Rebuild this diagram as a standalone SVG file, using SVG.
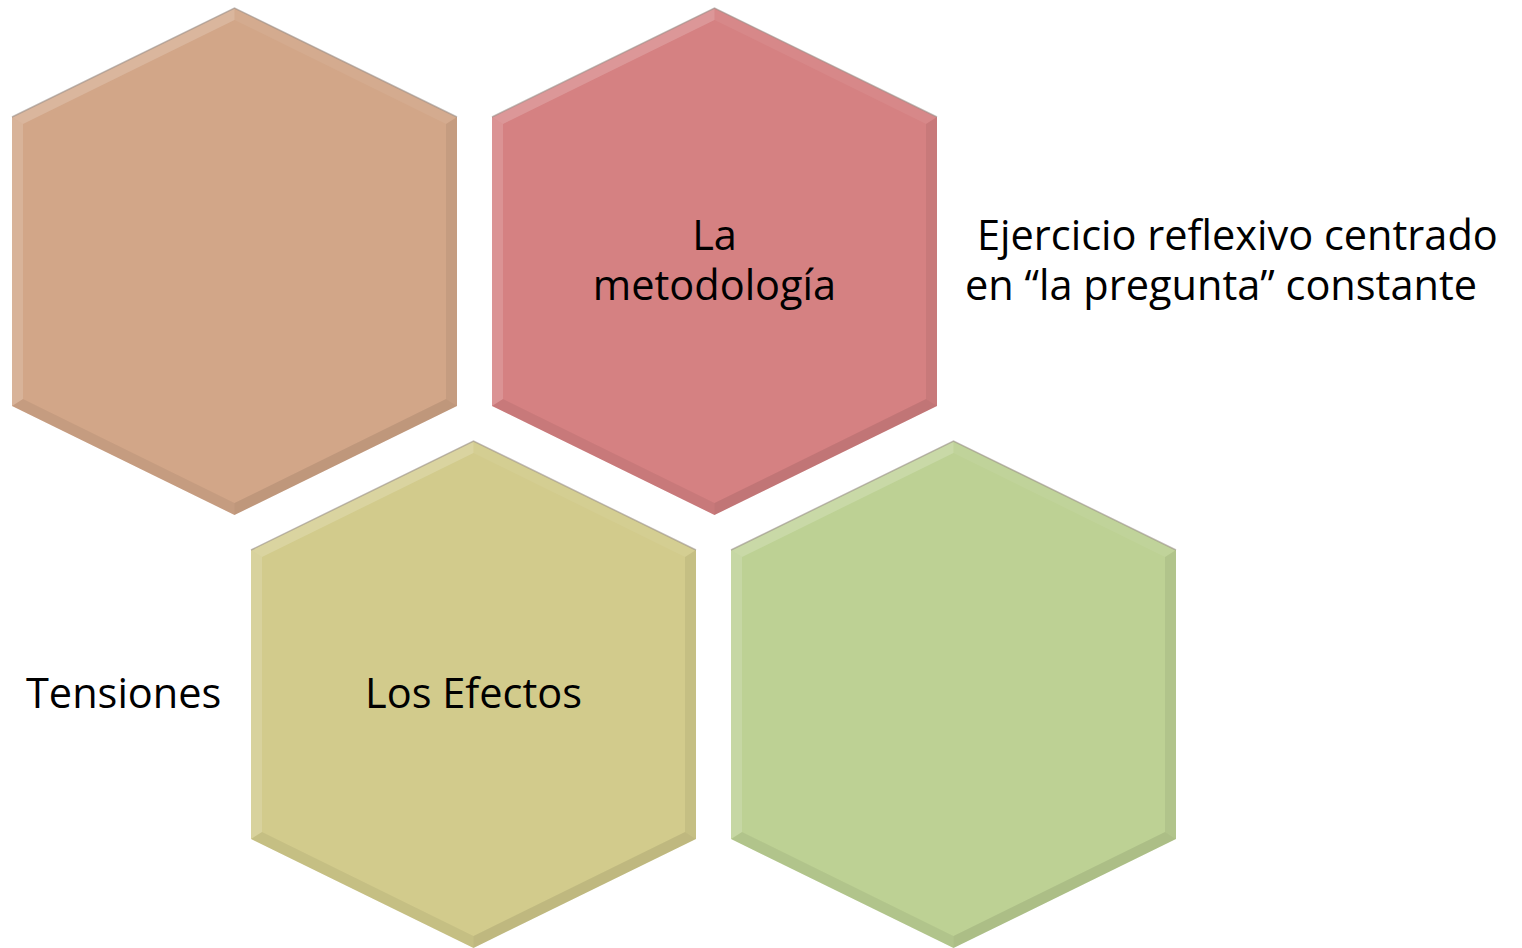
<svg xmlns="http://www.w3.org/2000/svg" xmlns:xlink="http://www.w3.org/1999/xlink" width="1522" height="948" viewBox="0 0 1522 948">
<style>
.lbl{font-family:"Open Sans","Liberation Sans",sans-serif;font-size:41.5px;fill:#000}
.edge{fill:none;stroke:#9a9088;stroke-opacity:0.6;stroke-width:1.5}
</style>
<defs>
<g id="hex">
<polygon points="222.5,0 445,109 445,398 222.5,507 0,398 0,109" fill="currentColor"/>
<polygon points="0,109 222.5,0 222.5,12 11,116" fill="#fff" fill-opacity="0.18"/>
<polygon points="222.5,0 445,109 434,116 222.5,12" fill="#fff" fill-opacity="0.06"/>
<polygon points="445,109 445,398 434,391 434,116" fill="#000" fill-opacity="0.06"/>
<polygon points="445,398 222.5,507 222.5,495 434,391" fill="#000" fill-opacity="0.09"/>
<polygon points="222.5,507 0,398 11,391 222.5,495" fill="#000" fill-opacity="0.06"/>
<polygon points="0,398 0,109 11,116 11,391" fill="#fff" fill-opacity="0.15"/>
<polyline class="edge" points="0,109 222.5,0 445,109"/>
</g>
</defs>
<rect width="1522" height="948" fill="#fff"/>
<g id="connectors"/>
<g id="node-1" style="color:#D2A688" transform="translate(12,8)">
<use xlink:href="#hex"/>
</g>
<g id="node-2" style="color:#D58182" transform="translate(492,8)">
<use xlink:href="#hex"/>
<text class="lbl" x="222.5" y="242" text-anchor="middle">La</text>
<text class="lbl" x="222.5" y="292" text-anchor="middle">metodología</text>
</g>
<g id="node-3" style="color:#D2CB8C" transform="translate(251,441)">
<use xlink:href="#hex"/>
<text class="lbl" x="222.5" y="267" text-anchor="middle">Los Efectos</text>
</g>
<g id="node-4" style="color:#BDD194" transform="translate(731,441)">
<use xlink:href="#hex"/>
</g>
<g id="label-ejercicio">
<text class="lbl" x="977" y="250">Ejercicio reflexivo centrado</text>
<text class="lbl" x="965" y="300">en “la pregunta” constante</text>
</g>
<g id="label-tensiones">
<text class="lbl" x="26" y="708">Tensiones</text>
</g>
</svg>
